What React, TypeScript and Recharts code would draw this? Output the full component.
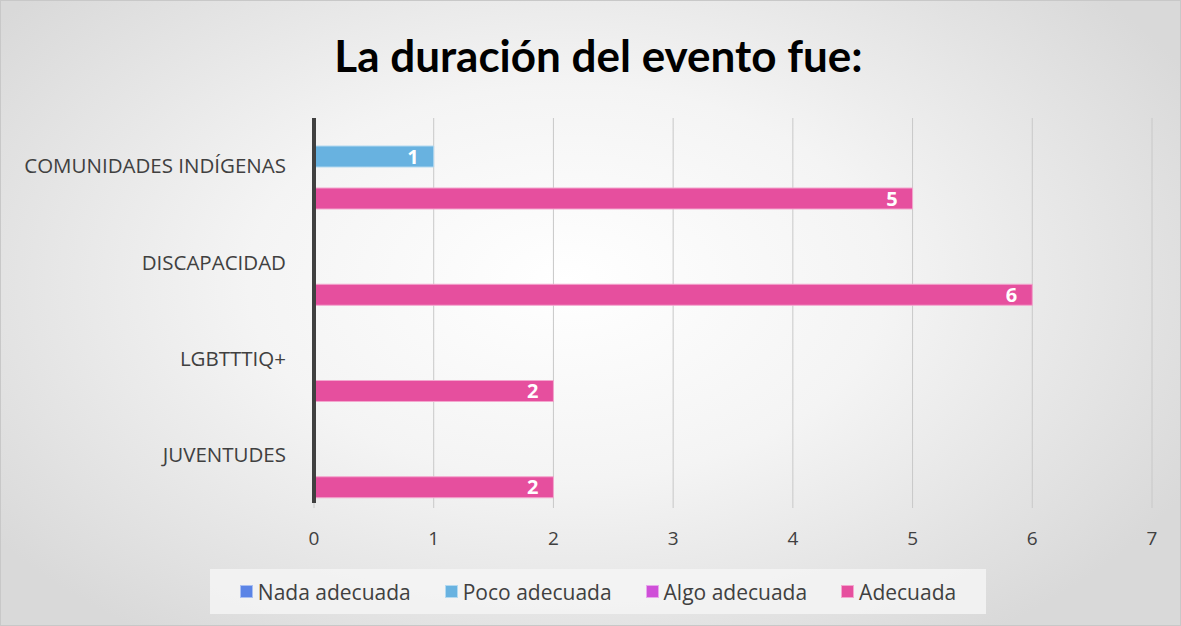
import { BarChart, Bar, XAxis, YAxis, CartesianGrid, LabelList } from 'recharts';

const categories = ['COMUNIDADES INDÍGENAS', 'DISCAPACIDAD', 'LGBTTTIQ+', 'JUVENTUDES'];
const nadaAdecuada = [0, 0, 0, 0];
const pocoAdecuada = [1, 0, 0, 0];
const algoAdecuada = [0, 0, 0, 0];
const adecuada = [5, 6, 2, 2];
const xTicks = [0, 1, 2, 3, 4, 5, 6, 7];

const series = [
  { key: 'nada', name: 'Nada adecuada', values: nadaAdecuada, color: '#5b84e6', border: '#a9bff2' },
  { key: 'poco', name: 'Poco adecuada', values: pocoAdecuada, color: '#68b2e0', border: '#b3d9f0' },
  { key: 'algo', name: 'Algo adecuada', values: algoAdecuada, color: '#cf4fd8', border: '#e7a7ec' },
  { key: 'adecuada', name: 'Adecuada', values: adecuada, color: '#e64f9e', border: '#f3a7ce' },
];

const data = categories.map((c, i) => {
  const row: Record<string, string | number> = { category: c };
  series.forEach(s => { row[s.key] = s.values[i]; });
  return row;
});

const font = '"Open Sans", "Noto Sans", sans-serif';

// legend drawn as a light box like the Excel original
function LegendBox() {
  return (
    <div style={{
      position: 'absolute', left: 209, top: 568, width: 776, height: 45,
      background: 'rgba(245,245,245,0.85)', display: 'flex', alignItems: 'center',
      justifyContent: 'center', gap: 34, fontFamily: font, fontSize: 21, color: '#404040',
    }}>
      {series.map(s => (
        <div key={s.key} style={{ display: 'flex', alignItems: 'center' }}>
          <span style={{ display: 'inline-block', width: 11, height: 11, background: s.color, border: `1px solid ${s.border}`, marginRight: 5 }} />
          <span>{s.name}</span>
        </div>
      ))}
    </div>
  );
}

export default function App() {
  return (
    <div style={{
      position: 'absolute', left: 0, top: 0, width: 1179, height: 624,
      border: '1px solid #c8c8c8',
      background: 'radial-gradient(ellipse 60% 70% at 48% 45%, #ffffff 0%, #f4f4f4 45%, #d9d9d9 100%)',
      overflow: 'hidden',
    }}>
      <div style={{
        position: 'absolute', left: 0, top: 28, width: 1195, textAlign: 'center',
        fontFamily: 'Lato, sans-serif', fontWeight: 700, fontSize: 44, color: '#000',
      }}>
        La duración del evento fue:
      </div>
      <BarChart
        width={1181}
        height={626}
        data={data}
        layout="vertical"
        margin={{ top: 118, right: 29, bottom: 83, left: 14 }}
        barCategoryGap={7}
        barGap={0}
        style={{ position: 'absolute', left: -1, top: -1 }}
      >
        <CartesianGrid horizontal={false} stroke="#c8c8c8" strokeWidth={1} />
        <XAxis
          type="number"
          domain={[0, 7]}
          ticks={xTicks}
          axisLine={false}
          tickLine={{ stroke: '#c8c8c8' }}
          tickSize={5}
          tickMargin={24}
          tick={{ fontSize: 19, fill: '#404040', fontFamily: font }}
          height={40}
        />
        <YAxis
          type="category"
          dataKey="category"
          width={300}
          axisLine={{ stroke: '#404040', strokeWidth: 4 }}
          tickLine={false}
          tickMargin={22}
          tick={{ fontSize: 20.5, fill: '#404040', fontFamily: font }}
        />
        {series.map(s => (
          <Bar key={s.key} dataKey={s.key} name={s.name} fill={s.color} stroke={s.border} strokeWidth={1} isAnimationActive={false}>
            <LabelList
              dataKey={s.key}
              position="insideRight"
              offset={15}
              formatter={(v: number) => (v ? v : '')}
              style={{ fill: '#ffffff', fontWeight: 700, fontSize: 20, fontFamily: font }}
            />
          </Bar>
        ))}
      </BarChart>
      <LegendBox />
    </div>
  );
}
